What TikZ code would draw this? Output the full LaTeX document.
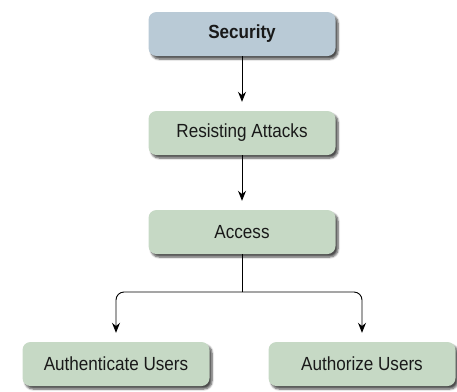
\documentclass[tikz,border=0pt]{standalone}
\usepackage{fontspec}
\setmainfont{Liberation Sans}[FakeStretch=0.9]
\usetikzlibrary{shadows.blur,arrows.meta}
\definecolor{secblue}{HTML}{B9CAD6}
\definecolor{boxgreen}{HTML}{C6D9C5}
\tikzset{
  box/.style={rounded corners=8pt, minimum width=187pt, minimum height=44pt,
    inner sep=0pt, font=\fontsize{19}{22}\selectfont, text=black!90,
    blur shadow={shadow xshift=2.5pt, shadow yshift=-3pt, shadow blur steps=6, shadow opacity=70, shadow blur radius=2pt}},
  topbox/.style={box, fill=secblue, font=\fontsize{19}{22}\selectfont\bfseries},
  greenbox/.style={box, fill=boxgreen},
  conn/.style={line width=0.9pt, shorten >=9pt, -{Stealth[length=10pt,width=8pt]}},
}
\begin{document}
\begin{tikzpicture}[x=1pt,y=-1pt]
\useasboundingbox (0,0) rectangle (457,391);
\node[topbox] (sec) at (242,34) {Security};
\node[greenbox] (res) at (242,133) {Resisting Attacks};
\node[greenbox] (acc) at (242,232) {Access};
\node[greenbox] (aut) at (116,364) {Authenticate Users};
\node[greenbox] (azr) at (362,364) {Authorize Users};
\coordinate (split) at (242,292);
\draw[conn] (sec) -- (res);
\draw[conn] (res) -- (acc);
\draw[line width=0.9pt] (acc.south) -- (split);
\draw[conn, rounded corners=8pt] (split) -| (aut.north);
\draw[conn, rounded corners=8pt] (split) -| (azr.north);
\end{tikzpicture}
\end{document}
